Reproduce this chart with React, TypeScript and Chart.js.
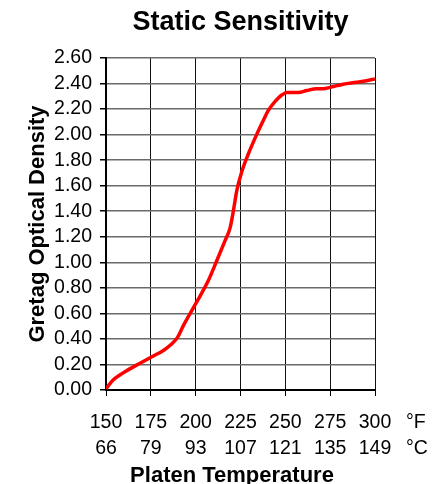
import React, { useEffect, useRef } from "react";
import { Chart, registerables } from "chart.js";

Chart.register(...registerables);

const titleText = "Static Sensitivity";
const yAxisTitle = "Gretag Optical Density";
const xAxisTitle = "Platen Temperature";
const fahrenheitTicks = [150, 175, 200, 225, 250, 275, 300];
const celsiusTicks = ["66", "79", "93", "107", "121", "135", "149"];
const unitLabels = ["°F", "°C"];
const densityTicks = [0, 0.2, 0.4, 0.6, 0.8, 1.0, 1.2, 1.4, 1.6, 1.8, 2.0, 2.2, 2.4, 2.6];

const temperatureF = [
  150, 153.7, 161.5, 169, 175.5, 182, 186.6, 189.8, 193, 200.2, 207, 211.7,
  216.4, 219.2, 221, 222.9, 225.7, 229.4, 234, 237.7, 240.5, 244.3, 248,
  250.8, 257.3, 261.9, 267.5, 271.2, 274.9, 282.3, 289.8, 300,
];
const density = [
  0.01, 0.074, 0.15, 0.21, 0.26, 0.31, 0.36, 0.41, 0.5, 0.68, 0.855, 1.01,
  1.17, 1.27, 1.4, 1.56, 1.71, 1.85, 2.0, 2.11, 2.19, 2.26, 2.31, 2.33, 2.33,
  2.345, 2.36, 2.36, 2.37, 2.395, 2.41, 2.435,
];

const FONT = "'Liberation Sans', Arial, Helvetica, sans-serif";

export default function App() {
  const canvasRef = useRef<HTMLCanvasElement | null>(null);

  useEffect(() => {
    if (!canvasRef.current) return;

    const extraText = {
      id: "extraText",
      afterDraw(chart: any) {
        const { ctx, chartArea } = chart;
        ctx.save();
        ctx.fillStyle = "#000";
        ctx.font = `19.5px ${FONT}`;
        ctx.textAlign = "left";
        ctx.textBaseline = "middle";
        ctx.fillText(unitLabels[0], 406, chartArea.bottom + 33);
        ctx.fillText(unitLabels[1], 406, chartArea.bottom + 59);
        ctx.font = `bold 22px ${FONT}`;
        ctx.textAlign = "center";
        ctx.textBaseline = "alphabetic";
        ctx.fillText(xAxisTitle, 232, chartArea.bottom + 92);
        ctx.restore();
      },
    };

    const chart = new Chart(canvasRef.current, {
      type: "line",
      data: {
        datasets: [
          {
            data: temperatureF.map((x, i) => ({ x, y: density[i] })),
            borderColor: "#ff0000",
            borderWidth: 3.5,
            pointRadius: 0,
            fill: false,
            cubicInterpolationMode: "monotone",
          },
        ],
      },
      options: {
        animation: false,
        responsive: false,
        devicePixelRatio: 1,
        layout: { padding: { left: 0, right: 60, top: 0, bottom: 0 } },
        plugins: {
          legend: { display: false },
          tooltip: { enabled: false },
          title: {
            display: true,
            text: titleText,
            fullSize: false,
            color: "#000",
            font: { family: FONT, size: 27, weight: "bold" },
            padding: { top: 6, bottom: 19.6 },
          },
        },
        scales: {
          x: {
            type: "linear",
            min: 150,
            max: 300,
            afterFit(scale: any) {
              scale.height = 94;
            },
            afterBuildTicks(scale: any) {
              scale.ticks = fahrenheitTicks.map((v) => ({ value: v }));
            },
            ticks: {
              color: "#000",
              font: { family: FONT, size: 19.5, lineHeight: 26 / 19.5 },
              padding: 14,
              maxRotation: 0,
              autoSkip: false,
              callback: (v: any, i: number) => [String(fahrenheitTicks[i]), celsiusTicks[i]],
            },
            grid: {
              color: "#111",
              lineWidth: 1,
              tickLength: 6,
              tickColor: "#000",
            },
            border: { color: "#000", width: 2 },
          },
          y: {
            min: 0,
            max: 2.6,
            afterFit(scale: any) {
              scale.width = 106;
            },
            afterBuildTicks(scale: any) {
              scale.ticks = densityTicks.map((v) => ({ value: v }));
            },
            ticks: {
              color: "#000",
              padding: 8,
              autoSkip: false,
              font: { family: FONT, size: 19.5 },
              callback: (v: any) => Number(v).toFixed(2),
            },
            grid: {
              color: "#6a6a6a",
              lineWidth: 1.5,
              tickLength: 6,
              tickColor: "#000",
            },
            border: { color: "#000", width: 2 },
            title: {
              display: true,
              text: yAxisTitle,
              color: "#000",
              font: { family: FONT, size: 22, weight: "bold" },
              padding: { top: 25, bottom: 0 },
            },
          },
        },
      },
      plugins: [extraText],
    } as any);

    return () => chart.destroy();
  }, []);

  return (
    <div style={{ position: "fixed", left: 0, top: 0, width: 435, height: 484, background: "#fff" }}>
      <canvas ref={canvasRef} width={435} height={484} style={{ display: "block" }} />
    </div>
  );
}
